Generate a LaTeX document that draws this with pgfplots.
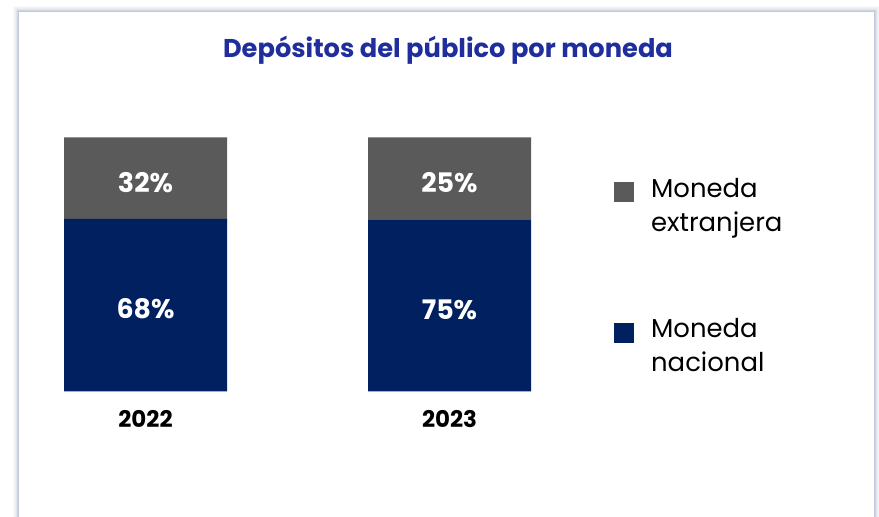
\documentclass[border=0pt]{standalone}
\usepackage{pgfplots}
\pgfplotsset{compat=1.18}
\usepackage{pgfplotstable}
\usepackage{fontspec}
\setmainfont{Poppins}

\definecolor{navy}{HTML}{002060}
\definecolor{gris}{HTML}{5A5A5A}
\definecolor{titulo}{HTML}{1F2E9C}
\definecolor{sombra}{HTML}{8F9CBC}

% x: 0 = 2022, 1 = 2023; val = drawn height, lab = printed label
\pgfplotstableread{
x val lab
0 68 68
1 67.8 75
}\nacional
\pgfplotstableread{
x val lab
0 32 32
1 32.2 25
}\extranjera

\begin{document}
\begin{tikzpicture}
\begin{scope}[x=1bp,y=1bp]
  \useasboundingbox (0,0) rectangle (879,517);
  \clip (0,0) rectangle (879,517);
  \fill[white] (0,0) rectangle (879,517);
  \foreach \i/\o in {1/0.55,2/0.4,3/0.28,4/0.18,5/0.1,6/0.05}
    \draw[sombra, opacity=\o, line width=1bp] (19.5-\i,-10) rectangle (873.5+\i,504.5+\i);
  \fill[white] (19,-10) rectangle (874,505);
\end{scope}
\begin{axis}[
    at={(145.5bp,125.5bp)}, anchor=origin,
    x=304bp, y=2.54bp,
    xmin=-0.41, xmax=2.4, ymin=0, ymax=100,
    ybar stacked, bar width=163bp,
    axis line style={draw=none}, tick style={draw=none},
    ytick=\empty, xtick={0,1}, xticklabels={2022,2023},
    xticklabel style={anchor=base, yshift=-36bp, text=black,
      font=\bfseries\fontsize{23}{23}\selectfont},
    /pgf/number format/assume math mode=true,
    title={Depósitos del público por moneda},
    title style={at={(axis description cs:0.5,1.32)}, anchor=center,
      text=titulo, font=\bfseries\fontsize{25.8}{26}\selectfont},
    nodes near coords={\pgfplotspointmeta\%},
    point meta=explicit symbolic,
    every node near coord/.append style={anchor=center, text=white, yshift=-4bp,
      font=\bfseries\fontsize{27}{27}\selectfont},
    reverse legend,
    legend style={at={(axis description cs:0.6908,0.8563)}, anchor=north west,
      draw=none, fill=none, row sep=82bp, column sep=15bp,
      font=\fontsize{26}{34}\selectfont, cells={align=left, anchor=west}},
    legend image code/.code={\fill[#1, draw=none] (0bp,3bp) rectangle (20bp,23bp);},
  ]
  \addplot[fill=navy, draw=none] table[x=x, y=val, meta=lab] {\nacional};
  \addlegendentry{Moneda\\nacional}
  \addplot[fill=gris, draw=none] table[x=x, y=val, meta=lab] {\extranjera};
  \addlegendentry{Moneda\\extranjera}
\end{axis}
\end{tikzpicture}
\end{document}
